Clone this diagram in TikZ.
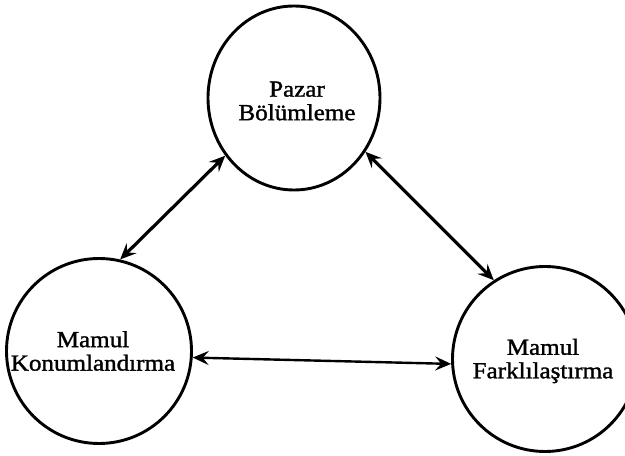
\documentclass[tikz,border=0pt]{standalone}
\usepackage{fontspec}
\setmainfont{Liberation Serif}[FakeBold=1.4, FakeStretch=1.09]
\usetikzlibrary{shapes.geometric, arrows.meta}
\begin{document}
\begin{tikzpicture}[x=1pt, y=1pt,
  ring/.style={draw, line width=2.9pt, inner sep=0pt},
  caption/.style={align=center, inner sep=0pt, font=\fontsize{23}{23.5}\selectfont},
  tip/.tip={Stealth[length=16pt, width=14pt, inset=6pt]},
  link/.style={line width=3.2pt, tip-tip},
  flatlink/.style={line width=2.4pt, tip-tip}
]
\useasboundingbox (0,0) rectangle (625,456);
\begin{scope}
  \clip (0,0) rectangle (625,456);
  % the three concept circles
  \node[ring, ellipse, minimum width=172pt, minimum height=184pt] (pb) at (294,358) {};
  \node[ring, circle, minimum size=185pt] (mk) at (99,105) {};
  \node[ring, circle, minimum size=185pt] (mf) at (545,97) {};
\end{scope}

% labels inside the circles
\node[caption] (pbtext) at (297,355) {Pazar\\Bölümleme};
\node[caption] (mktext) at (93,105) {Mamul\\Konumlandırma};
\node[caption] (mftext) at (543,95) {Mamul\\Farklılaştırma};

% two-way relations
\draw[link] (pb.220.7) -- (mk.77.4);
\draw[link] (pb.323.6) -- (mf.123.4);
\draw[flatlink] (mk.-4.5) -- (mf.183);
\end{tikzpicture}
\end{document}
